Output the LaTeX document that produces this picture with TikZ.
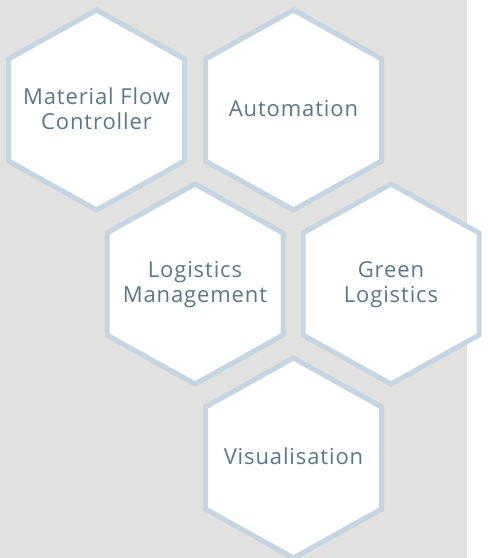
\documentclass[tikz,border=0pt]{standalone}
\usepackage{fontspec}
\newfontfamily\hexfont[LetterSpace=4]{Open Sans}
\definecolor{bggrey}{HTML}{E1E1E0}
\definecolor{hexline}{HTML}{C5D5E2}
\definecolor{labelcol}{HTML}{5B778A}
\begin{document}
\begin{tikzpicture}[x=1pt,y=-1pt,
  hexcell/.style={fill=white,draw=hexline,line width=5pt,line join=miter},
  hexlabel/.style={font=\hexfont\fontsize{22}{25}\selectfont,text=labelcol,align=center,inner sep=0pt}]
\useasboundingbox (0,0) rectangle (488,558);
\fill[bggrey] (0,0) rectangle (467,558);
\foreach \cx/\cy in {96.5/110, 293.5/110, 195/284, 391/284, 293.5/458}{
  \draw[hexcell,shift={(\cx,\cy)}] (0,-100) -- (88,-51) -- (88,51) -- (0,100) -- (-88,51) -- (-88,-51) -- cycle;
}
\node[hexlabel] (mfc) at (96.5,109) {Material Flow\\Controller};
\node[hexlabel] (aut) at (293.5,108.5) {Automation};
\node[hexlabel] (lm) at (195,285) {Logistics\\Management};
\node[hexlabel] (gl) at (391,285) {Green\\Logistics};
\node[hexlabel] (vis) at (293.5,456.5) {Visualisation};
\end{tikzpicture}
\end{document}
